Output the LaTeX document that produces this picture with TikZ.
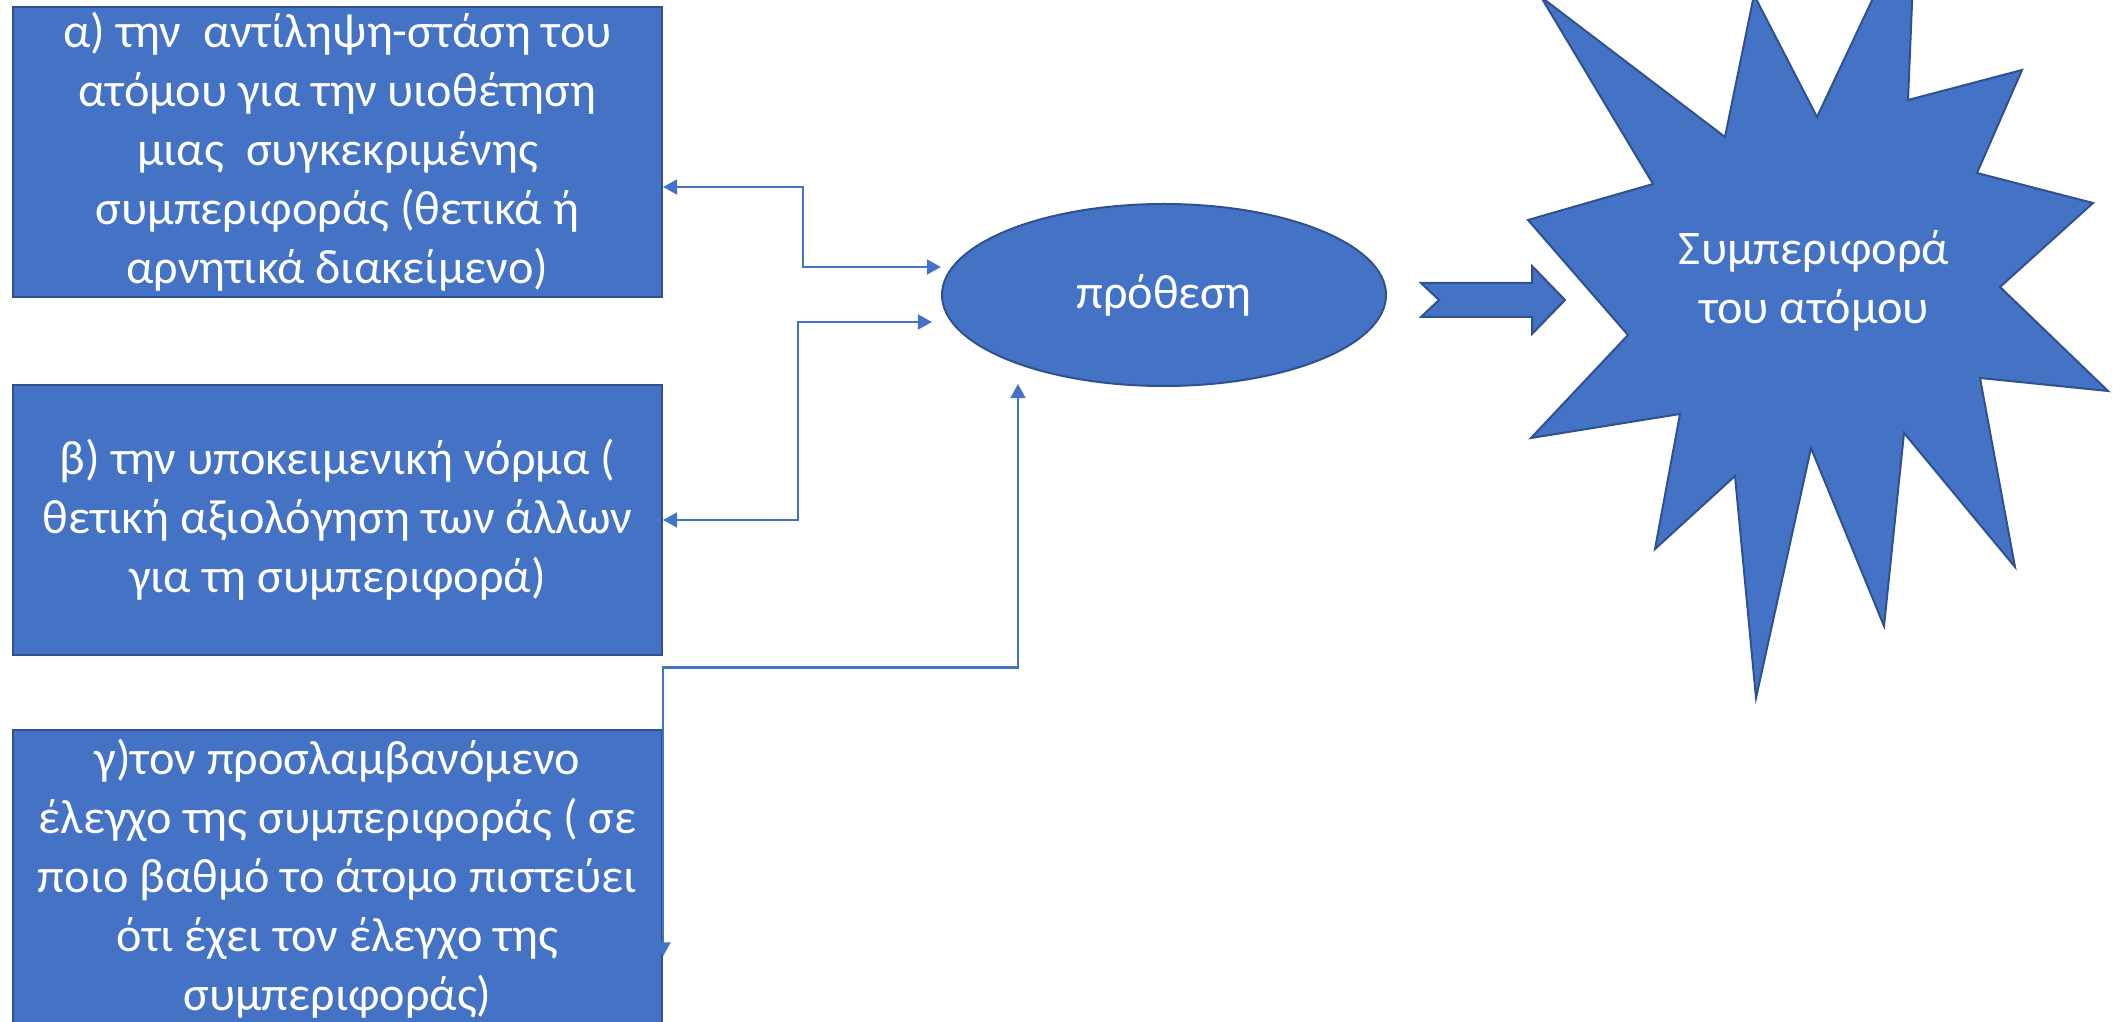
\documentclass[tikz,border=0pt]{standalone}
\usepackage{fontspec}
\setmainfont{Carlito}
\usetikzlibrary{arrows.meta,shapes.geometric,calc}
\definecolor{fillblue}{HTML}{4472C4}
\definecolor{edgeblue}{HTML}{2F528F}
\newcommand\mainfs{\fontsize{20.6pt}{25.2pt}\selectfont}
\begin{document}
\begin{tikzpicture}[x=0.015cm,y=-0.015cm,
  box/.style={draw=edgeblue,fill=fillblue,line width=0.03cm,text=white,align=center,inner sep=0pt,font=\mainfs,minimum width=9.735cm},
  blob/.style={draw=edgeblue,fill=fillblue,line width=0.03cm,line join=miter},
  label/.style={text=white,align=center,inner sep=0pt,font=\mainfs},
  conn/.style={draw=fillblue,line width=0.0375cm,arrows={Triangle[length=0.21cm,width=0.22cm]-Triangle[length=0.21cm,width=0.22cm]}}]
\path[use as bounding box] (0,0) rectangle (2114,1022);
\clip (0,0) rectangle (2114,1022);
% boxes
\node[box,minimum height=4.35cm] (boxA) at (337.5,152) {α) την~ αντίληψη-στάση του\\ατόμου για την υιοθέτηση\\μιας~ συγκεκριμένης\\συμπεριφοράς (θετικά ή\\αρνητικά διακείμενο)};
\node[box,minimum height=4.0425cm] (boxB) at (337.5,520) {β) την υποκειμενική νόρμα (\\θετική αξιολόγηση των άλλων\\για τη συμπεριφορά)};
\node[box,minimum height=4.455cm] (boxC) at (337.5,879) {γ)τον προσλαμβανόμενο\\έλεγχο της συμπεριφοράς ( σε\\ποιο βαθμό το άτομο πιστεύει\\ότι έχει τον έλεγχο της\\συμπεριφοράς)};
% ellipse
\node[box,ellipse,minimum width=6.66cm,minimum height=2.73cm] (intent) at (1164,295) {πρόθεση};
% block arrow
\draw[blob] (1421,283) -- (1532,283) -- (1532,266) -- (1565,300) -- (1532,334) -- (1532,317) -- (1421,317) -- (1439,300) -- cycle;
% star
\draw[blob] (1541,-3) -- (1725,137) -- (1754,-5) -- (1817,117) -- (1916,-93) -- (1908,100) -- (2022,70) -- (1977,173) -- (2093,203) -- (2000,287) -- (2108,391) -- (1980,378) -- (2015,567) -- (1904,433) -- (1884,626) -- (1811,448) -- (1756,698) -- (1735,476) -- (1655,549) -- (1680,414) -- (1531,438) -- (1628,335) -- (1528,220) -- (1653,184) -- cycle;
\node[label] (star) at (1814,281) {Συμπεριφορά\\του ατόμου};
% connectors
\coordinate (a1) at ($(boxA.east)+(0,35)$);
\coordinate (e1) at ($(intent.west)+(0,-28)$);
\draw[conn] (a1) -- ++(140,0) |- (e1);
\coordinate (e2) at ($(intent.west)+(-9,27)$);
\draw[conn] (boxB.east) -- ++(135,0) |- (e2);
\coordinate (c1) at ($(boxC.north east)+(0,227)$);
\coordinate (e3) at ($(intent.south)+(-146,-3)$);
\draw[conn] (c1) -- ++(0,-289) -| (e3);
\end{tikzpicture}
\end{document}
